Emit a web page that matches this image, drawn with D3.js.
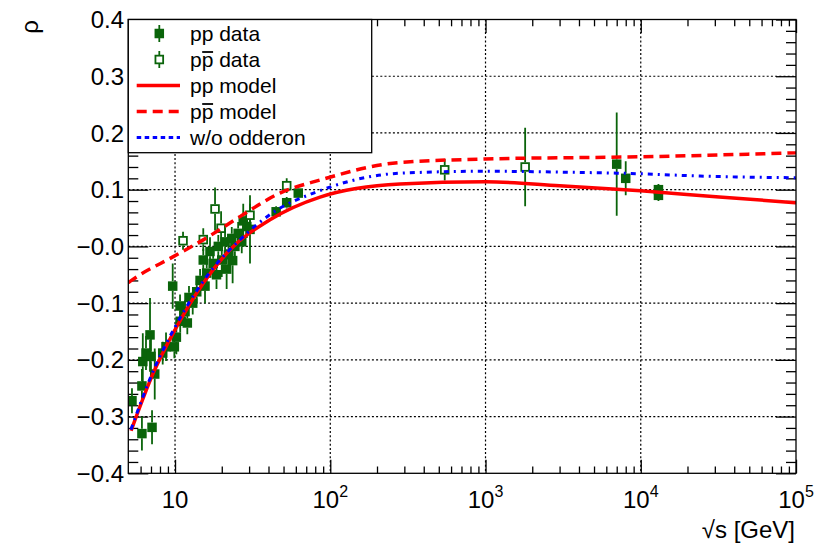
<!DOCTYPE html>
<html>
<head>
<meta charset="utf-8">
<script src="https://cdn.jsdelivr.net/npm/d3@7"></script>
<style>
  html, body { margin: 0; padding: 0; background: #fff; }
  svg { display: block; font-family: "Liberation Sans", Arial, sans-serif; }
</style>
</head>
<body>
<svg id="chart" width="832" height="552"></svg>
<script>
// ---- measured rho = Re/Im of the forward amplitude ----
// pp data: sqrt(s) [GeV], rho, error
const ppSqrtS = [5.28, 6.12, 7.11, 6.12, 6.2, 6.5, 6.9, 7.0, 7.4, 8.33, 8.75, 9.9, 10.2, 10.8, 11.6,
                 13.0, 9.66, 10.77, 12.0, 12.3, 13.8, 14.5, 15.2, 15.6, 16.0, 16.8, 17.6, 18.5, 19.0,
                 20.0, 21.0, 21.5, 22.1, 23.2, 23.5, 24.3, 25.5, 26.9, 27.5, 29.0, 30.4, 44.8, 52.4,
                 62.2, 7000, 8000, 13000, 13000];
const ppRho    = [-0.272, -0.330, -0.319, -0.246, -0.203, -0.188, -0.156, -0.194, -0.225, -0.188, -0.177,
                  -0.177, -0.160, -0.132, -0.115, -0.100, -0.070, -0.105, -0.135, -0.090, -0.080, -0.060,
                  -0.024, -0.070, -0.047, -0.009, -0.030, -0.050, 0.000, -0.024, 0.008, -0.040, -0.015,
                  0.014, -0.025, 0.000, 0.023, 0.008, 0.045, 0.035, 0.030, 0.061, 0.077, 0.094,
                  0.145, 0.120, 0.100, 0.090];
const ppErr    = [0.022, 0.030, 0.030, 0.030, 0.050, 0.030, 0.065, 0.040, 0.045, 0.020, 0.025,
                  0.020, 0.030, 0.020, 0.020, 0.020, 0.040, 0.020, 0.020, 0.020, 0.020, 0.020,
                  0.020, 0.030, 0.030, 0.025, 0.020, 0.025, 0.020, 0.030, 0.025, 0.035, 0.030,
                  0.020, 0.040, 0.020, 0.020, 0.020, 0.030, 0.020, 0.060, 0.010, 0.010, 0.010,
                  0.091, 0.030, 0.010, 0.010];

// p-pbar data
const pbarSqrtS = [11.26, 15.2, 18.1, 19.8, 30.4, 52.4, 546, 1800];
const pbarRho   = [0.010, 0.012, 0.066, 0.032, 0.055, 0.107, 0.135, 0.140];
const pbarErr   = [0.016, 0.020, 0.038, 0.030, 0.020, 0.013, 0.019, 0.069];

// ---- model curves ----
const ppModelSqrtS = [5.21, 7.25, 10, 15.2, 22.6, 40.9, 85.9, 281, 1000, 3000, 10000, 32000, 100000];
const ppModelRho   = [-0.325, -0.223, -0.147, -0.065, -0.006, 0.047, 0.087, 0.110, 0.114, 0.107, 0.098, 0.087, 0.077];

const pbarModelSqrtS = [5.0, 5.3, 9.75, 15.2, 26.2, 47.4, 85.9, 281, 1000, 10000, 100000];
const pbarModelRho   = [-0.064, -0.059, -0.018, 0.0115, 0.0525, 0.094, 0.117, 0.148, 0.154, 0.158, 0.165];

const noOddSqrtS = [5.2, 7.25, 10, 17.6, 24.9, 45.2, 78, 281, 1000, 3000, 10000, 24000, 100000];
const noOddRho   = [-0.323, -0.219, -0.142, -0.038, 0.006, 0.064, 0.094, 0.129, 0.1325, 0.131, 0.128, 0.124, 0.121];

// ---- axis ticks ----
const xMajorTicks = [10, 100, 1000, 10000, 100000];
const xTickLabels = [["10", ""], ["10", "2"], ["10", "3"], ["10", "4"], ["10", "5"]];
const yMajorTicks = [0.4, 0.3, 0.2, 0.1, 0.0, -0.1, -0.2, -0.3, -0.4];
const yTickLabels = ["0.4", "0.3", "0.2", "0.1", "\u22120.0", "\u22120.1", "\u22120.2", "\u22120.3", "\u22120.4"];

const legendLabels = ["pp data", "pbar data", "pp model", "pbar model", "w/o odderon"];

// ---- layout ----
const svg = d3.select("#chart");
const W = 832, H = 552;
const L = 128.3, R = 796, T = 19.5, B = 473.3;
const green = "#0a640a";

const x = d3.scaleLog().domain([5, 1e5]).range([L, R]);
const y = d3.scaleLinear().domain([-0.4, 0.4]).range([B, T]);

svg.append("rect").attr("width", W).attr("height", H).attr("fill", "#fff");

// minor tick values
const xMinor = [];
for (let d = 1; d <= 1e4; d *= 10) {
  for (let m = 2; m <= 9; m++) {
    const v = m * d;
    if (v > 5 && v < 1e5) xMinor.push(v);
  }
}
const yMinor = d3.range(-19, 20).map(i => i * 0.02).filter(v => Math.abs(Math.round(v * 10) - v * 10) > 1e-6);

// grid (dotted) at major ticks
const grid = svg.append("g").attr("stroke", "#000").attr("stroke-width", 1.2).attr("stroke-dasharray", "2,2.2");
grid.selectAll("line.gx").data(xMajorTicks.filter(v => v < 1e5)).join("line")
  .attr("x1", d => x(d)).attr("x2", d => x(d)).attr("y1", T).attr("y2", B);
grid.selectAll("line.gy").data(yMajorTicks.filter(v => v > -0.35 && v < 0.35)).join("line")
  .attr("x1", L).attr("x2", R).attr("y1", d => y(d)).attr("y2", d => y(d));

// ticks, drawn inward on all four sides
function tickAxis(gen, transform) {
  const g = svg.append("g").attr("transform", transform).call(gen);
  g.select(".domain").remove();
  g.selectAll("text").remove();
  g.selectAll("line").attr("stroke", "#000").attr("stroke-width", 1.3);
  return g;
}
const xMajLen = 13.6, xMinLen = 6.8, yMajLen = 20, yMinLen = 10;
tickAxis(d3.axisBottom(x).tickValues(xMajorTicks).tickSize(-xMajLen).tickFormat(""), `translate(0,${B})`);
tickAxis(d3.axisBottom(x).tickValues(xMinor).tickSize(-xMinLen).tickFormat(""), `translate(0,${B})`);
tickAxis(d3.axisTop(x).tickValues(xMajorTicks).tickSize(-xMajLen).tickFormat(""), `translate(0,${T})`);
tickAxis(d3.axisTop(x).tickValues(xMinor).tickSize(-xMinLen).tickFormat(""), `translate(0,${T})`);
tickAxis(d3.axisLeft(y).tickValues(yMajorTicks).tickSize(-yMajLen).tickFormat(""), `translate(${L},0)`);
tickAxis(d3.axisLeft(y).tickValues(yMinor).tickSize(-yMinLen).tickFormat(""), `translate(${L},0)`);
tickAxis(d3.axisRight(y).tickValues(yMajorTicks).tickSize(-yMajLen).tickFormat(""), `translate(${R},0)`);
tickAxis(d3.axisRight(y).tickValues(yMinor).tickSize(-yMinLen).tickFormat(""), `translate(${R},0)`);

// clip for data and curves
svg.append("defs").append("clipPath").attr("id", "plotClip")
  .append("rect").attr("x", L).attr("y", T).attr("width", R - L).attr("height", B - T);
const plot = svg.append("g").attr("clip-path", "url(#plotClip)");

// data points with vertical error bars
const ms = 9.5; // marker size
function drawPoints(xs, ys, es, open) {
  const pts = xs.map((v, i) => ({ sx: v, rho: ys[i], err: es[i] }));
  const g = plot.append("g");
  g.selectAll("line.up").data(pts).join("line")
    .attr("x1", d => x(d.sx)).attr("x2", d => x(d.sx))
    .attr("y1", d => y(d.rho + d.err)).attr("y2", d => y(d.rho) - ms / 2)
    .attr("stroke", green).attr("stroke-width", 1.8);
  g.selectAll("line.dn").data(pts).join("line")
    .attr("x1", d => x(d.sx)).attr("x2", d => x(d.sx))
    .attr("y1", d => y(d.rho) + ms / 2).attr("y2", d => y(d.rho - d.err))
    .attr("stroke", green).attr("stroke-width", 1.8);
  g.selectAll("rect").data(pts).join("rect")
    .attr("x", d => x(d.sx) - ms / 2 + (open ? 0.9 : 0)).attr("y", d => y(d.rho) - ms / 2 + (open ? 0.9 : 0))
    .attr("width", open ? ms - 1.8 : ms).attr("height", open ? ms - 1.8 : ms)
    .attr("fill", open ? "#fff" : green)
    .attr("stroke", open ? green : "none").attr("stroke-width", 1.8);
}
drawPoints(ppSqrtS, ppRho, ppErr, false);
drawPoints(pbarSqrtS, pbarRho, pbarErr, true);

// model curves (the no-odderon curve goes last so it stays visible over the pp curve)
const line = d3.line().x(d => x(d[0])).y(d => y(d[1])).curve(d3.curveMonotoneX);
const zip = (a, b) => a.map((v, i) => [v, b[i]]);
const styles = [
  { data: zip(ppModelSqrtS, ppModelRho), color: "#ff0000", dash: null, width: 3.5 },
  { data: zip(pbarModelSqrtS, pbarModelRho), color: "#ff0000", dash: "10,6", width: 3.5 },
  { data: zip(noOddSqrtS, noOddRho), color: "#0000ff", dash: "5,5,2,5", width: 3 }
];
styles.forEach(s => {
  plot.append("path").attr("d", line(s.data)).attr("fill", "none")
    .attr("stroke", s.color).attr("stroke-width", s.width)
    .attr("stroke-dasharray", s.dash);
});

// frame
svg.append("rect").attr("x", L).attr("y", T).attr("width", R - L).attr("height", B - T)
  .attr("fill", "none").attr("stroke", "#000").attr("stroke-width", 1.3);

// tick labels
svg.append("g").selectAll("text").data(yMajorTicks).join("text")
  .attr("x", 124).attr("y", d => y(d) + 8.6)
  .attr("text-anchor", "end").attr("font-size", 24).attr("fill", "#000")
  .text((d, i) => yTickLabels[i]);

const xl = svg.append("g");
xMajorTicks.forEach((v, i) => {
  const [base, exp] = xTickLabels[i];
  const t = xl.append("text").attr("y", 508.3).attr("font-size", 24).attr("fill", "#000")
    .attr("text-anchor", "middle").attr("x", x(v));
  t.append("tspan").text(base);
  if (exp) t.append("tspan").attr("font-size", 16).attr("dy", -11.5).text(exp);
});

// axis titles
svg.append("text").attr("x", 795).attr("y", 537.5).attr("text-anchor", "end")
  .attr("font-size", 24).attr("fill", "#000").text("\u221As [GeV]");
svg.append("text").attr("transform", "translate(38,20) rotate(-90)")
  .attr("text-anchor", "end").attr("font-size", 24).attr("fill", "#000").text("\u03C1");

// legend
const lg = svg.append("g");
lg.append("rect").attr("x", L).attr("y", T).attr("width", 371.7 - L).attr("height", 152.7 - T)
  .attr("fill", "#fff").attr("stroke", "#000").attr("stroke-width", 1.3);
const rowY = i => 33.5 + 26 * i;
const mx = 159.3;
// marker samples
[0, 1].forEach(i => {
  const open = i === 1;
  lg.append("line").attr("x1", mx).attr("x2", mx).attr("y1", rowY(i) - 8.5).attr("y2", rowY(i) + 8.5)
    .attr("stroke", green).attr("stroke-width", 1.8);
  lg.append("rect").attr("x", mx - ms / 2 + (open ? 0.9 : 0)).attr("y", rowY(i) - ms / 2 + (open ? 0.9 : 0))
    .attr("width", open ? ms - 1.8 : ms).attr("height", open ? ms - 1.8 : ms)
    .attr("fill", open ? "#fff" : green).attr("stroke", open ? green : "none").attr("stroke-width", 1.8);
});
// line samples
[[2, "#ff0000", null, 3.5], [3, "#ff0000", "10,6", 3.5], [4, "#0000ff", "4.5,3.5", 3]].forEach(([i, c, dash, w]) => {
  lg.append("line").attr("x1", 136.7).attr("x2", 180).attr("y1", rowY(i)).attr("y2", rowY(i))
    .attr("stroke", c).attr("stroke-width", w).attr("stroke-dasharray", dash);
});
// legend text; the antiproton "p" gets a bar drawn over it
legendLabels.forEach((lab, i) => {
  const base = rowY(i) + 7.5;
  const t = lg.append("text").attr("x", 190).attr("y", base).attr("font-size", 21).attr("fill", "#000");
  if (lab.startsWith("pbar")) {
    t.text("pp" + lab.slice(4));
    const node = t.node();
    const x0 = 190 + node.getSubStringLength(0, 1);
    const w = node.getSubStringLength(1, 1);
    lg.append("line").attr("x1", x0 + 0.5).attr("x2", x0 + w - 0.3)
      .attr("y1", base - 15).attr("y2", base - 15)
      .attr("stroke", "#000").attr("stroke-width", 1.8);
  } else {
    t.text(lab);
  }
});
</script>
</body>
</html>
